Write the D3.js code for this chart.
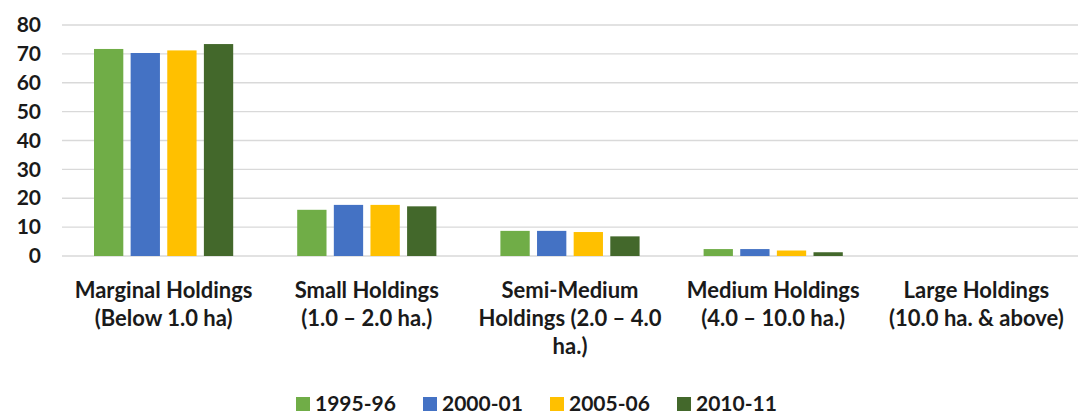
<!DOCTYPE html>
<html>
<head>
    <meta charset="utf-8">
    <script type="text/javascript" src="https://cdn.jsdelivr.net/npm/d3@7"></script>
    <style>
        body {
            margin: 0;
            background: #ffffff;
        }
        * {
            font-family: Lato, 'Open Sans', sans-serif;
        }
        .tick text {
            font-size: 21px;
            font-weight: bold;
            fill: #1a1a1a;
        }
        .cat text, .legend text {
            font-weight: bold;
            fill: #1a1a1a;
        }
    </style>
</head>
<body>
    <svg id="chart" width="1080" height="416"></svg>

    <script type="text/javascript">
        // categories (line breaks as in the picture)
        var categories = [
            "Marginal Holdings\n(Below 1.0 ha)",
            "Small Holdings\n(1.0 \u2013 2.0 ha.)",
            "Semi-Medium\nHoldings (2.0 \u2013 4.0\nha.)",
            "Medium Holdings\n(4.0 \u2013 10.0 ha.)",
            "Large Holdings\n(10.0 ha. & above)"
        ];
        var seriesNames = ["1995-96", "2000-01", "2005-06", "2010-11"];

        // one array per series, one value per category
        var s1995 = [71.7, 16.0, 8.7, 2.4, 0];
        var s2000 = [70.3, 17.7, 8.7, 2.4, 0];
        var s2005 = [71.2, 17.7, 8.3, 1.9, 0];
        var s2010 = [73.4, 17.2, 6.8, 1.3, 0];

        var yTicks = [0, 10, 20, 30, 40, 50, 60, 70, 80];

        var colors = ["#70ad47", "#4472c4", "#ffc000", "#43682b"];
        var seriesValues = [s1995, s2000, s2005, s2010];

        var svg = d3.select("#chart");
        var plotLeft = 62, plotRight = 1078, plotTop = 25, plotBottom = 256;

        var x0 = d3.scaleBand()
            .domain(categories)
            .range([plotLeft, plotRight])
            .paddingInner(0.315)
            .paddingOuter(0.1575);

        var x1 = d3.scaleBand()
            .domain(seriesNames)
            .range([0, x0.bandwidth()])
            .paddingInner(0.2);

        var y = d3.scaleLinear()
            .domain([0, 80])
            .range([plotBottom, plotTop]);

        // gridlines
        svg.append("g")
            .selectAll("line")
            .data(yTicks)
            .enter()
            .append("line")
            .attr("x1", plotLeft)
            .attr("x2", plotRight)
            .attr("y1", function(d) { return y(d); })
            .attr("y2", function(d) { return y(d); })
            .attr("stroke", "#d9d9d9")
            .attr("stroke-width", 1.3);

        // y axis labels
        var yAxis = svg.append("g")
            .attr("transform", "translate(41,0)")
            .call(d3.axisLeft(y).tickValues(yTicks).tickSize(0).tickPadding(0));
        yAxis.select(".domain").remove();

        // bars
        var groups = svg.append("g")
            .selectAll("g.grp")
            .data(categories)
            .enter()
            .append("g")
            .attr("class", "grp")
            .attr("transform", function(d) { return "translate(" + x0(d) + ",0)"; });

        groups.selectAll("rect")
            .data(function(d, i) {
                return seriesNames.map(function(s, j) {
                    return { series: s, value: seriesValues[j][i], color: colors[j] };
                });
            })
            .enter()
            .append("rect")
            .attr("x", function(d) { return x1(d.series); })
            .attr("width", x1.bandwidth())
            .attr("y", function(d) { return y(d.value); })
            .attr("height", function(d) { return y(0) - y(d.value); })
            .attr("fill", function(d) { return d.color; });

        // category labels
        var cat = svg.append("g").attr("class", "cat");
        cat.selectAll("text")
            .data(categories)
            .enter()
            .append("text")
            .attr("text-anchor", "middle")
            .attr("font-size", 22)
            .attr("x", function(d) { return x0(d) + x0.bandwidth() / 2; })
            .attr("y", 298)
            .each(function(d) {
                var t = d3.select(this);
                d.split("\n").forEach(function(line, k) {
                    t.append("tspan")
                        .attr("x", t.attr("x"))
                        .attr("dy", k === 0 ? 0 : 28)
                        .text(line);
                });
            });

        // legend
        var legend = svg.append("g").attr("class", "legend");
        var item = legend.selectAll("g")
            .data(seriesNames)
            .enter()
            .append("g")
            .attr("transform", function(d, i) { return "translate(" + (296 + i * 127) + ",0)"; });
        item.append("rect")
            .attr("x", 0)
            .attr("y", 397)
            .attr("width", 14)
            .attr("height", 14)
            .attr("fill", function(d, i) { return colors[i]; });
        item.append("text")
            .attr("x", 19)
            .attr("y", 411)
            .attr("font-size", 21)
            .text(function(d) { return d; });
    </script>
</body>
</html>
